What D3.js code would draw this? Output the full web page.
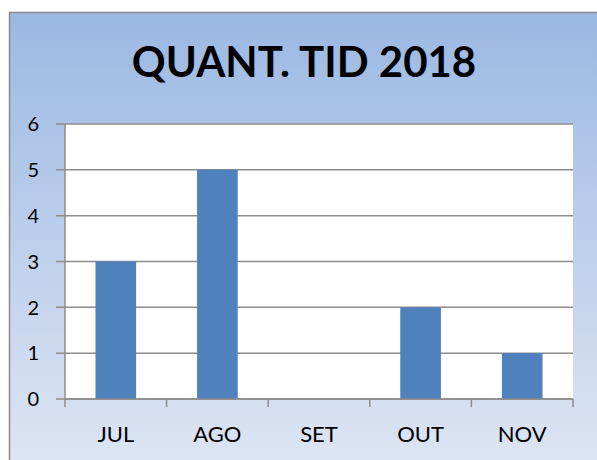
<!DOCTYPE html>
<html><head><meta charset="utf-8">
<script src="https://cdn.jsdelivr.net/npm/d3@7"></script>
<style>body{margin:0;background:#fff}svg{display:block}</style>
</head><body><svg id="c" width="597" height="460"></svg>
<script>
const categories = ["JUL","AGO","SET","OUT","NOV"];
const values = [3,5,0,2,1];
const yTicks = [0,1,2,3,4,5,6];
const title = "QUANT. TID 2018";

const svg = d3.select("#c");
const defs = svg.append("defs");
const g = defs.append("linearGradient").attr("id","bg").attr("x1",0).attr("y1",0).attr("x2",0).attr("y2",1);
g.append("stop").attr("offset","0%").attr("stop-color","#9bb8e3");
g.append("stop").attr("offset","100%").attr("stop-color","#dfe6f4");

svg.append("rect").attr("x",9.5).attr("y",12.5).attr("width",597).attr("height",460)
  .attr("fill","url(#bg)").attr("stroke","#8a8a8a").attr("stroke-width",1.5);

const m = {l:65, r:573, t:124, b:399};
const x = d3.scaleBand().domain(categories).range([m.l,m.r]).paddingInner(0.6).paddingOuter(0.3);
const xb = d3.scaleBand().domain(categories).range([m.l,m.r]);
const y = d3.scaleLinear().domain([0,6]).range([m.b,m.t]);

svg.append("rect").attr("x",m.l).attr("y",m.t).attr("width",m.r-m.l).attr("height",m.b-m.t).attr("fill","#fff");

svg.append("g").selectAll("line").data(yTicks).join("line")
  .attr("x1",m.l-9).attr("x2",m.r).attr("y1",d=>y(d)).attr("y2",d=>y(d))
  .attr("stroke","#8c8c8c").attr("stroke-width",1.5);

svg.append("g").selectAll("rect").data(values).join("rect")
  .attr("x",(d,i)=>x(categories[i])).attr("width",x.bandwidth())
  .attr("y",d=>y(d)).attr("height",d=>y(0)-y(d)).attr("fill","#4f81bd");

svg.append("line").attr("x1",m.l).attr("x2",m.l).attr("y1",m.t).attr("y2",m.b).attr("stroke","#8c8c8c").attr("stroke-width",1.5);
svg.append("line").attr("x1",m.l).attr("x2",m.r).attr("y1",m.b).attr("y2",m.b).attr("stroke","#8c8c8c").attr("stroke-width",1.5);
const xt = categories.map(c=>xb(c)).concat([m.r]);
svg.append("g").selectAll("line").data(xt).join("line")
  .attr("x1",d=>d).attr("x2",d=>d).attr("y1",m.b).attr("y2",m.b+8).attr("stroke","#8c8c8c").attr("stroke-width",1.5);

const font = "Lato, 'Open Sans', sans-serif";
svg.append("g").selectAll("text").data(yTicks).join("text")
  .attr("x",39).attr("y",d=>y(d)).attr("dy","0.36em").attr("text-anchor","end")
  .attr("font-family",font).attr("font-size",20).attr("fill","#000").text(d=>d);

svg.append("g").selectAll("text").data(categories).join("text")
  .attr("x",d=>xb(d)+xb.bandwidth()/2).attr("y",434).attr("dy","0.36em").attr("text-anchor","middle")
  .attr("font-family",font).attr("font-size",22).attr("fill","#000").text(d=>d);

svg.append("text").attr("x",304).attr("y",77).attr("text-anchor","middle")
  .attr("font-family",font).attr("font-weight","bold").attr("font-size",42).attr("fill","#000").text(title);
</script></body></html>
